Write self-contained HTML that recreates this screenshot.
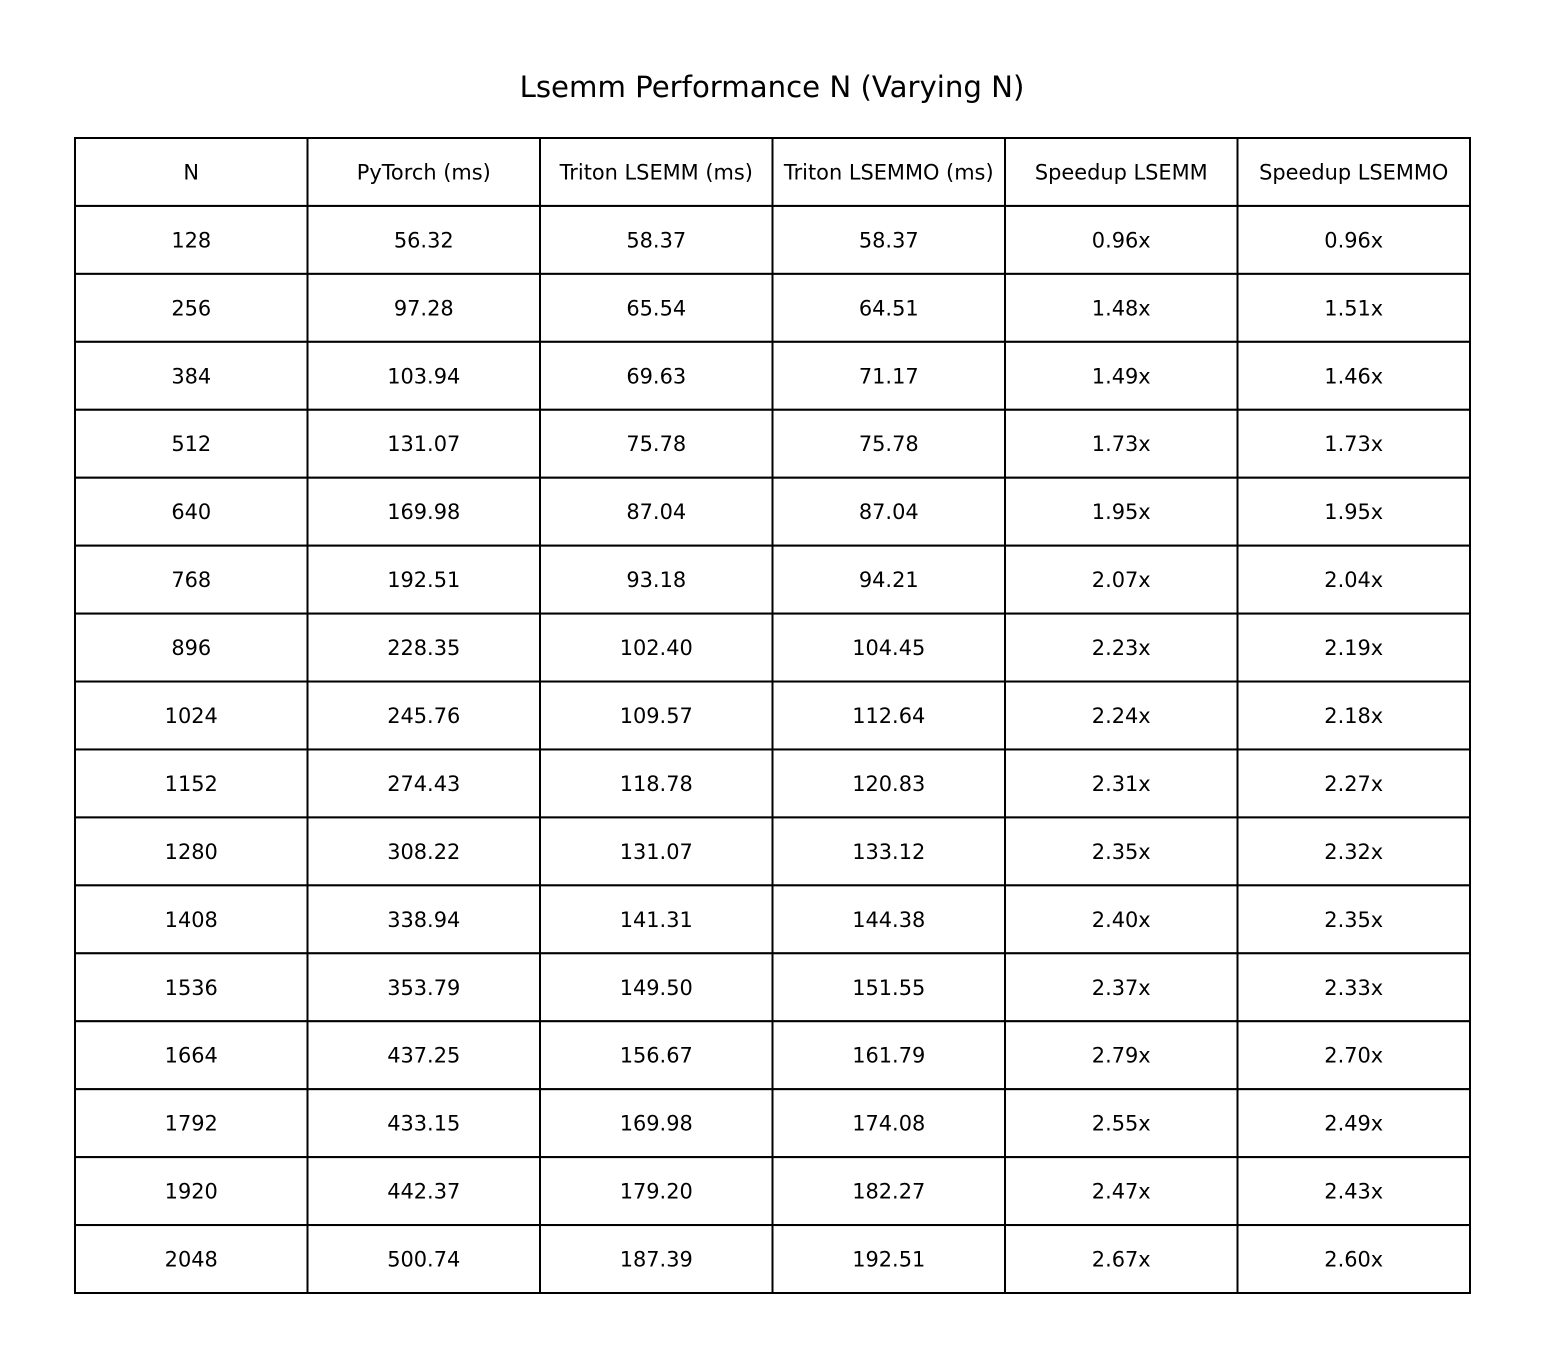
<!DOCTYPE html>
<html><head><meta charset="utf-8"><style>
html,body{margin:0;padding:0;background:#fff;}
svg{display:block;font-family:"DejaVu Sans","Liberation Sans",sans-serif;}
</style></head><body>
<svg id="chart" width="1545" height="1368" viewBox="0 0 1545 1368">
<rect width="1545" height="1368" fill="#fff"/>
<text x="772" y="97" font-size="29.2" text-anchor="middle" fill="#000">Lsemm Performance N (Varying N)</text>
<g id="tbl"></g>
</svg>
<script>
const headers = ["N","PyTorch (ms)","Triton LSEMM (ms)","Triton LSEMMO (ms)","Speedup LSEMM","Speedup LSEMMO"];
const nValues = ["128","256","384","512","640","768","896","1024","1152","1280","1408","1536","1664","1792","1920","2048"];
const pytorch = ["56.32","97.28","103.94","131.07","169.98","192.51","228.35","245.76","274.43","308.22","338.94","353.79","437.25","433.15","442.37","500.74"];
const lsemm = ["58.37","65.54","69.63","75.78","87.04","93.18","102.40","109.57","118.78","131.07","141.31","149.50","156.67","169.98","179.20","187.39"];
const lsemmo = ["58.37","64.51","71.17","75.78","87.04","94.21","104.45","112.64","120.83","133.12","144.38","151.55","161.79","174.08","182.27","192.51"];
const spLsemm = ["0.96x","1.48x","1.49x","1.73x","1.95x","2.07x","2.23x","2.24x","2.31x","2.35x","2.40x","2.37x","2.79x","2.55x","2.47x","2.67x"];
const spLsemmo = ["0.96x","1.51x","1.46x","1.73x","1.95x","2.04x","2.19x","2.18x","2.27x","2.32x","2.35x","2.33x","2.70x","2.49x","2.43x","2.60x"];

const NS = "http://www.w3.org/2000/svg";
const tbl = document.getElementById("tbl");
const tLeft = 75, tRight = 1470, tTop = 138, tBottom = 1293;
const nCols = headers.length;
const allRows = [headers];
for (let i = 0; i < nValues.length; i++) allRows.push([nValues[i], pytorch[i], lsemm[i], lsemmo[i], spLsemm[i], spLsemmo[i]]);
const cw = (tRight - tLeft) / nCols, rh = (tBottom - tTop) / allRows.length;
allRows.forEach((r, ri) => {
  r.forEach((v, ci) => {
    const rect = document.createElementNS(NS, "rect");
    rect.setAttribute("x", tLeft + ci * cw);
    rect.setAttribute("y", tTop + ri * rh);
    rect.setAttribute("width", cw);
    rect.setAttribute("height", rh);
    rect.setAttribute("fill", "#fff");
    rect.setAttribute("stroke", "#000");
    rect.setAttribute("stroke-width", "2");
    
    
    tbl.appendChild(rect);
    const t = document.createElementNS(NS, "text");
    t.setAttribute("x", tLeft + ci * cw + cw / 2);
    t.setAttribute("y", tTop + ri * rh + rh / 2 + 7.5);
    t.setAttribute("text-anchor", "middle");
    t.setAttribute("font-size", "20.9");
    t.setAttribute("fill", "#000");
    
    
    t.textContent = v;
    tbl.appendChild(t);
  });
});
</script>
</body></html>
